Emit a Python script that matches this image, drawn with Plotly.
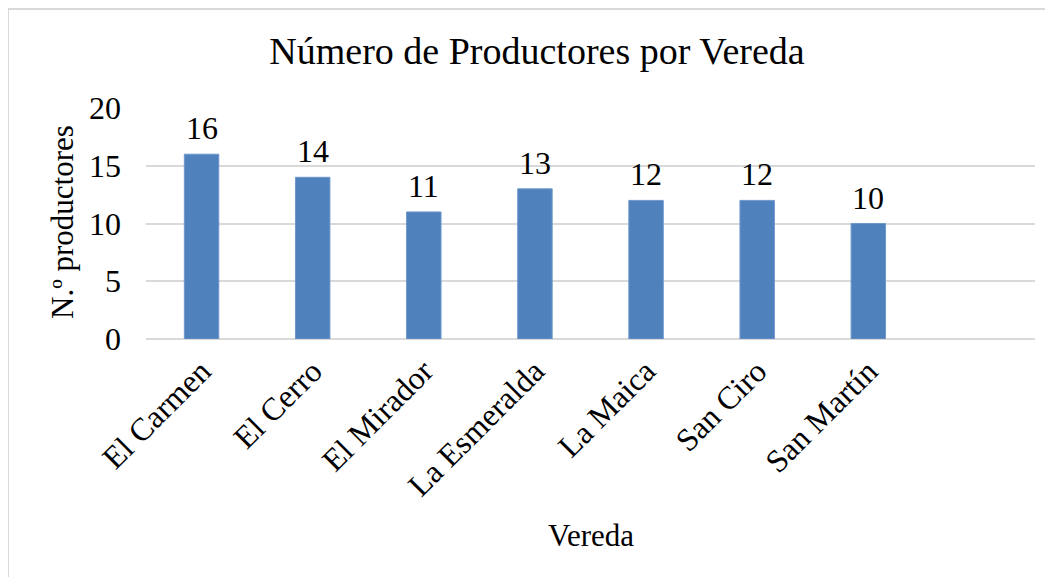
import plotly.graph_objects as go

categories = ["El Carmen", "El Cerro", "El Mirador", "La Esmeralda", "La Maica", "San Ciro", "San Martín"]
values = [16, 14, 11, 13, 12, 12, 10]
y_ticks = [0, 5, 10, 15, 20]

W, H = 1053, 577
OFF = 8  # page body margin
L, T = 146 - OFF, 108 - OFF
R = W - (1035 - OFF)
B = H - (339 - OFF)
pw, ph = W - L - R, H - T - B

FONT = "Liberation Serif, Times New Roman, serif"


def py(screen_y):
    return (H - B - (screen_y - OFF)) / ph


def px(screen_x):
    return ((screen_x - OFF) - L) / pw


fig = go.Figure(go.Bar(
    x=categories, y=values,
    marker=dict(color="#4F81BD", line=dict(color="#6E97CC", width=1)),
    width=0.31,
    cliponaxis=False,
))

annotations = [
    dict(x=c, y=v, xref="x", yref="y", text=str(v), showarrow=False,
         yanchor="middle", yshift=26, font=dict(family=FONT, size=32, color="#000000"))
    for c, v in zip(categories, values)
]
annotations += [
    dict(text="N.º productores", x=px(62), y=py(222),
         xref="paper", yref="paper", showarrow=False, textangle=-90,
         xanchor="center", yanchor="middle", font=dict(family=FONT, size=31)),
    dict(text="Vereda", x=0.5, y=py(535), xref="paper", yref="paper",
         showarrow=False, xanchor="center", yanchor="middle",
         font=dict(family=FONT, size=31)),
]

fig.update_layout(
    width=W, height=H,
    margin=dict(l=L, r=R, t=T, b=B, autoexpand=False),
    paper_bgcolor="white", plot_bgcolor="white",
    showlegend=False,
    font=dict(family=FONT, size=32, color="#000000"),
    title=dict(text="Número de Productores por Vereda",
               x=(537 - OFF) / W, xref="container", xanchor="center",
               y=1 - (51 - OFF) / H, yanchor="middle", yref="container",
               font=dict(family=FONT, size=38, color="#000000")),
    xaxis=dict(type="category", range=[-0.5, 7.5], tickangle=-45, showgrid=False,
               showline=False, ticks="", tickfont=dict(family=FONT, size=32),
               ticklabelstandoff=6, automargin=False),
    yaxis=dict(range=[0, 20], tickvals=y_ticks, showgrid=True, gridcolor="#D9D9D9",
               gridwidth=1.5, zeroline=True, zerolinecolor="#D9D9D9", zerolinewidth=1.5,
               showline=False, ticks="", tickfont=dict(family=FONT, size=32),
               ticklabelstandoff=24, automargin=False),
    annotations=annotations,
    shapes=[
        dict(type="line", xref="paper", yref="paper",
             x0=px(8), x1=px(W + 20), y0=py(9), y1=py(9),
             line=dict(color="#D9D9D9", width=2)),
        dict(type="line", xref="paper", yref="paper",
             x0=px(8), x1=px(8), y0=py(9), y1=py(H + 20),
             line=dict(color="#D9D9D9", width=2)),
    ],
)

fig.write_html("out.html")
